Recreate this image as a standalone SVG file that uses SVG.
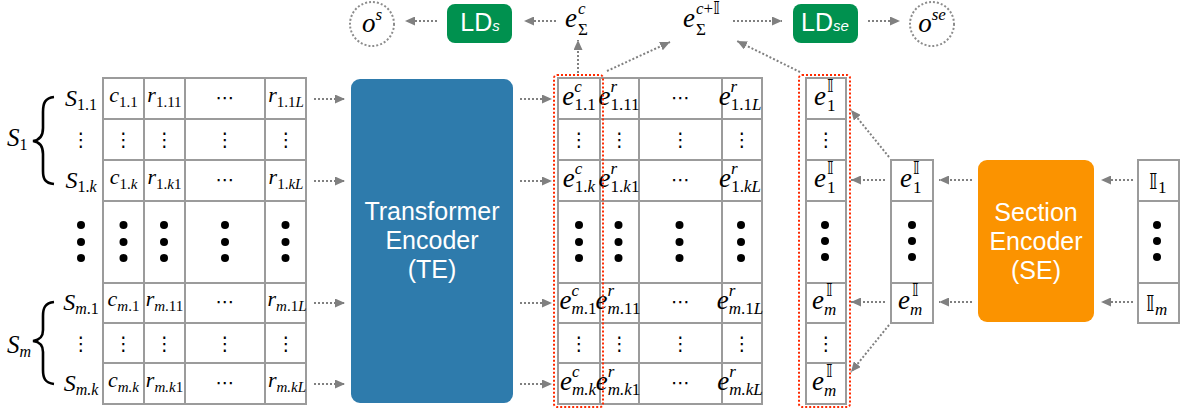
<svg xmlns="http://www.w3.org/2000/svg" width="1181" height="411" viewBox="0 0 1181 411">
<defs>
<marker id="ah" markerUnits="userSpaceOnUse" markerWidth="10" markerHeight="9" refX="10" refY="4.5" orient="auto"><path d="M0,0 L10,4.5 L0,9 z" fill="#808080"/></marker>
<style>
.tb{fill:#fff;stroke:#9b9b9b;stroke-width:2}
.ln{stroke:#9b9b9b;stroke-width:2;fill:none}
.ar{fill:none;stroke:#808080;stroke-width:2;stroke-dasharray:2 2;marker-end:url(#ah)}
.rd{fill:none;stroke:#ff2a00;stroke-width:2;stroke-dasharray:2 2}
.oc{fill:#fff;stroke:#8c8c8c;stroke-width:2;stroke-dasharray:2 2}
.m{font-family:"Liberation Serif","Times New Roman",serif;font-size:22px;fill:#000}
.e{font-size:27px}
.sb{font-size:15px}
.sb2{font-size:17px}
.i{font-style:italic}
.I{font-family:"DejaVu Sans","DejaVu Serif",sans-serif;font-style:normal}
.el{font-family:"DejaVu Serif","DejaVu Sans",serif;font-size:19px;fill:#000}
.sf{font-family:"Liberation Sans",Arial,sans-serif;fill:#fff;font-size:25px}
.bd{fill:#000}
.br{fill:none;stroke:#000;stroke-width:2.6}
</style>
</defs>

<g id="connectors">
<path class="ar" d="M556,21 L524,21"/>
<path class="ar" d="M437,21 L405,21"/>
<path class="ar" d="M733,21 L782,21"/>
<path class="ar" d="M868,21 L900,21"/>
<path class="ar" d="M578,73 L578,40"/>
<path class="ar" d="M607,71 L670,42"/>
<path class="ar" d="M800,72 L737,41"/>
<path class="ar" d="M314,99 L345,99"/>
<path class="ar" d="M314,181 L345,181"/>
<path class="ar" d="M314,303 L345,303"/>
<path class="ar" d="M314,384 L345,384"/>
<path class="ar" d="M520,99 L552,99"/>
<path class="ar" d="M520,181 L552,181"/>
<path class="ar" d="M520,303 L552,303"/>
<path class="ar" d="M520,384 L552,384"/>
<path class="ar" d="M1133,180 L1101,180"/>
<path class="ar" d="M1133,302 L1101,302"/>
<path class="ar" d="M972,180 L939,180"/>
<path class="ar" d="M972,302 L939,302"/>
<path class="ar" d="M885,180 L851,180"/>
<path class="ar" d="M885,302 L851,302"/>
<path class="ar" d="M889,157 L851,110"/>
<path class="ar" d="M889,325 L851,372"/>
</g>

<g id="o-s">
<circle class="oc" cx="372" cy="24" r="22"/>
<text class="m" x="372" y="32" text-anchor="middle"><tspan class="i" font-size="27">o</tspan><tspan class="i" font-size="17" dy="-12">s</tspan></text>
</g>
<g id="LD-s">
<rect x="447" y="4" width="65" height="39" rx="8" fill="#00914f"/>
<text class="sf" x="480" y="31" text-anchor="middle" font-size="22">LD<tspan class="i" font-size="15">s</tspan></text>
</g>
<g id="e-sum-c">
<text class="m"><tspan class="i e" x="565" y="27">e</tspan><tspan class="i sb2" x="578" y="14">c</tspan><tspan class="sb2" x="578" y="35">Σ</tspan></text>
</g>
<g id="e-sum-cI">
<text class="m"><tspan class="i e" x="683" y="27">e</tspan><tspan class="sb2" x="696" y="14"><tspan class="i">c</tspan>+<tspan class="I">𝕀</tspan></tspan><tspan class="sb2" x="696" y="35">Σ</tspan></text>
</g>
<g id="LD-se">
<rect x="793" y="4" width="65" height="39" rx="8" fill="#00914f"/>
<text class="sf" x="825" y="31" text-anchor="middle" font-size="22">LD<tspan class="i" font-size="15">se</tspan></text>
</g>
<g id="o-se">
<circle class="oc" cx="932" cy="24" r="22"/>
<text class="m" x="932" y="32" text-anchor="middle"><tspan class="i" font-size="27">o</tspan><tspan class="i" font-size="17" dy="-12">se</tspan></text>
</g>

<g id="input-table">
<rect class="tb" x="103" y="78" width="203" height="326"/>
<path class="ln" d="M103,119H306M103,160H306M103,201H306M103,283H306M103,323H306M103,363H306M144,78V404M185,78V404M265,78V404"/>
<text class="m" x="81" y="106" text-anchor="middle"><tspan class="i" font-size="24">S</tspan><tspan font-size="16" dy="4">1.1</tspan></text>
<text class="el" x="81" y="146" text-anchor="middle">⋮</text>
<text class="m" x="81" y="188" text-anchor="middle"><tspan class="i" font-size="24">S</tspan><tspan font-size="16" dy="4">1.<tspan class="i">k</tspan></tspan></text>
<text class="m" x="81" y="310" text-anchor="middle"><tspan class="i" font-size="24">S</tspan><tspan font-size="16" dy="4"><tspan class="i">m</tspan>.1</tspan></text>
<text class="el" x="81" y="350" text-anchor="middle">⋮</text>
<text class="m" x="81" y="391" text-anchor="middle"><tspan class="i" font-size="24">S</tspan><tspan font-size="16" dy="4"><tspan class="i">m.k</tspan></tspan></text>
<circle class="bd" cx="81" cy="225" r="4"/><circle class="bd" cx="81" cy="242" r="4"/><circle class="bd" cx="81" cy="258" r="4"/>
<text class="m" x="123.5" y="102" text-anchor="middle"><tspan class="i">c</tspan><tspan class="sb" dy="5">1.1</tspan></text>
<text class="m" x="164.5" y="102" text-anchor="middle"><tspan class="i">r</tspan><tspan class="sb" dy="5">1.11</tspan></text>
<text class="el" x="225" y="104" text-anchor="middle">⋯</text>
<text class="m" x="286" y="102" text-anchor="middle"><tspan class="i">r</tspan><tspan class="sb" dy="5">1.1<tspan class="i">L</tspan></tspan></text>
<text class="el" x="123.5" y="146" text-anchor="middle">⋮</text>
<text class="el" x="164.5" y="146" text-anchor="middle">⋮</text>
<text class="el" x="225" y="146" text-anchor="middle">⋮</text>
<text class="el" x="286" y="146" text-anchor="middle">⋮</text>
<text class="m" x="123.5" y="184" text-anchor="middle"><tspan class="i">c</tspan><tspan class="sb" dy="5">1.<tspan class="i">k</tspan></tspan></text>
<text class="m" x="164.5" y="184" text-anchor="middle"><tspan class="i">r</tspan><tspan class="sb" dy="5">1.<tspan class="i">k</tspan>1</tspan></text>
<text class="el" x="225" y="186" text-anchor="middle">⋯</text>
<text class="m" x="286" y="184" text-anchor="middle"><tspan class="i">r</tspan><tspan class="sb" dy="5">1.<tspan class="i">kL</tspan></tspan></text>
<circle class="bd" cx="123.5" cy="225" r="4"/><circle class="bd" cx="123.5" cy="242" r="4"/><circle class="bd" cx="123.5" cy="258" r="4"/>
<circle class="bd" cx="164" cy="225" r="4"/><circle class="bd" cx="164" cy="242" r="4"/><circle class="bd" cx="164" cy="258" r="4"/>
<circle class="bd" cx="225" cy="225" r="4"/><circle class="bd" cx="225" cy="242" r="4"/><circle class="bd" cx="225" cy="258" r="4"/>
<circle class="bd" cx="285.5" cy="225" r="4"/><circle class="bd" cx="285.5" cy="242" r="4"/><circle class="bd" cx="285.5" cy="258" r="4"/>
<text class="m" x="123.5" y="306" text-anchor="middle"><tspan class="i">c</tspan><tspan class="sb" dy="5"><tspan class="i">m</tspan>.1</tspan></text>
<text class="m" x="164.5" y="306" text-anchor="middle"><tspan class="i">r</tspan><tspan class="sb" dy="5"><tspan class="i">m</tspan>.11</tspan></text>
<text class="el" x="225" y="308" text-anchor="middle">⋯</text>
<text class="m" x="287" y="306" text-anchor="middle"><tspan class="i">r</tspan><tspan class="sb" dy="5"><tspan class="i">m</tspan>.1<tspan class="i">L</tspan></tspan></text>
<text class="el" x="123.5" y="350" text-anchor="middle">⋮</text>
<text class="el" x="164.5" y="350" text-anchor="middle">⋮</text>
<text class="el" x="225" y="350" text-anchor="middle">⋮</text>
<text class="el" x="286" y="350" text-anchor="middle">⋮</text>
<text class="m" x="123.5" y="387" text-anchor="middle"><tspan class="i">c</tspan><tspan class="sb i" dy="5">m.k</tspan></text>
<text class="m" x="164.5" y="387" text-anchor="middle"><tspan class="i">r</tspan><tspan class="sb" dy="5"><tspan class="i">m.k</tspan>1</tspan></text>
<text class="el" x="225" y="389" text-anchor="middle">⋯</text>
<text class="m" x="287" y="387" text-anchor="middle"><tspan class="i">r</tspan><tspan class="sb i" dy="5">m.kL</tspan></text>
</g>

<g id="brace-S1">
<path class="br" d="M54,97 C45,98 43,103 43,112 L43,128 C43,136 40,140 33,141 C40,142 43,146 43,154 L43,171 C43,179 45,183 54,184"/>
<text class="m" x="7" y="146"><tspan class="i" font-size="25">S</tspan><tspan font-size="16" dy="4">1</tspan></text>
</g>
<g id="brace-Sm">
<path class="br" d="M54,302 C45,303 43,308 43,316 L43,330 C43,337 40,340 33,341 C40,342 43,345 43,352 L43,370 C43,378 45,383 54,384"/>
<text class="m" x="7" y="353"><tspan class="i" font-size="25">S</tspan><tspan class="i" font-size="16" dy="4">m</tspan></text>
</g>

<g id="TE">
<rect x="351" y="79" width="162" height="324" rx="9" fill="#2e7bac"/>
<text class="sf" x="432" y="220" text-anchor="middle">Transformer</text>
<text class="sf" x="432" y="249" text-anchor="middle">Encoder</text>
<text class="sf" x="432" y="278" text-anchor="middle">(TE)</text>
</g>

<g id="embed-table">
<rect class="tb" x="558" y="78" width="204" height="326"/>
<path class="ln" d="M558,119H762M558,160H762M558,201H762M558,283H762M558,323H762M558,363H762M600,78V404M639,78V404M722,78V404"/>
<text class="m" x="579" y="105" text-anchor="middle"><tspan class="i e">e</tspan><tspan class="i sb2" dy="-13">c</tspan><tspan class="sb2" dx="-7.5" dy="18">1.1</tspan></text>
<text class="m" x="619" y="105" text-anchor="middle"><tspan class="i e">e</tspan><tspan class="i sb2" dy="-13">r</tspan><tspan class="sb2" dx="-6.6" dy="18">1.11</tspan></text>
<text class="el" x="680.5" y="104" text-anchor="middle">⋯</text>
<text class="m" x="740" y="105" text-anchor="middle"><tspan class="i e">e</tspan><tspan class="i sb2" dy="-13">r</tspan><tspan class="sb2" dx="-6.6" dy="18">1.1<tspan class="i">L</tspan></tspan></text>
<text class="el" x="579" y="146" text-anchor="middle">⋮</text>
<text class="el" x="619.5" y="146" text-anchor="middle">⋮</text>
<text class="el" x="680.5" y="146" text-anchor="middle">⋮</text>
<text class="el" x="742" y="146" text-anchor="middle">⋮</text>
<text class="m" x="579" y="187" text-anchor="middle"><tspan class="i e">e</tspan><tspan class="i sb2" dy="-13">c</tspan><tspan class="sb2" dx="-7.5" dy="18">1.<tspan class="i">k</tspan></tspan></text>
<text class="m" x="619" y="187" text-anchor="middle"><tspan class="i e">e</tspan><tspan class="i sb2" dy="-13">r</tspan><tspan class="sb2" dx="-6.6" dy="18">1.<tspan class="i">k</tspan>1</tspan></text>
<text class="el" x="680.5" y="186" text-anchor="middle">⋯</text>
<text class="m" x="740" y="187" text-anchor="middle"><tspan class="i e">e</tspan><tspan class="i sb2" dy="-13">r</tspan><tspan class="sb2" dx="-6.6" dy="18">1.<tspan class="i">kL</tspan></tspan></text>
<circle class="bd" cx="579" cy="225" r="4"/><circle class="bd" cx="579" cy="242" r="4"/><circle class="bd" cx="579" cy="258" r="4"/>
<circle class="bd" cx="618.5" cy="225" r="4"/><circle class="bd" cx="618.5" cy="242" r="4"/><circle class="bd" cx="618.5" cy="258" r="4"/>
<circle class="bd" cx="679.5" cy="225" r="4"/><circle class="bd" cx="679.5" cy="242" r="4"/><circle class="bd" cx="679.5" cy="258" r="4"/>
<circle class="bd" cx="741" cy="225" r="4"/><circle class="bd" cx="741" cy="242" r="4"/><circle class="bd" cx="741" cy="258" r="4"/>
<text class="m" x="578" y="309" text-anchor="middle"><tspan class="i e">e</tspan><tspan class="i sb2" dy="-13">c</tspan><tspan class="sb2" dx="-7.5" dy="18"><tspan class="i">m</tspan>.1</tspan></text>
<text class="m" x="618" y="309" text-anchor="middle"><tspan class="i e">e</tspan><tspan class="i sb2" dy="-13">r</tspan><tspan class="sb2" dx="-6.6" dy="18"><tspan class="i">m</tspan>.11</tspan></text>
<text class="el" x="680.5" y="308" text-anchor="middle">⋯</text>
<text class="m" x="740" y="309" text-anchor="middle"><tspan class="i e">e</tspan><tspan class="i sb2" dy="-13">r</tspan><tspan class="sb2" dx="-6.6" dy="18"><tspan class="i">m</tspan>.1<tspan class="i">L</tspan></tspan></text>
<text class="el" x="579" y="350" text-anchor="middle">⋮</text>
<text class="el" x="619.5" y="350" text-anchor="middle">⋮</text>
<text class="el" x="680.5" y="350" text-anchor="middle">⋮</text>
<text class="el" x="742" y="350" text-anchor="middle">⋮</text>
<text class="m" x="578" y="390" text-anchor="middle"><tspan class="i e">e</tspan><tspan class="i sb2" dy="-13">c</tspan><tspan class="sb2 i" dx="-7.5" dy="18">m.k</tspan></text>
<text class="m" x="618" y="390" text-anchor="middle"><tspan class="i e">e</tspan><tspan class="i sb2" dy="-13">r</tspan><tspan class="sb2" dx="-6.6" dy="18"><tspan class="i">m.k</tspan>1</tspan></text>
<text class="el" x="680.5" y="389" text-anchor="middle">⋯</text>
<text class="m" x="740" y="390" text-anchor="middle"><tspan class="i e">e</tspan><tspan class="i sb2" dy="-13">r</tspan><tspan class="sb2 i" dx="-6.6" dy="18">m.kL</tspan></text>
</g>
<rect id="red-c" class="rd" x="554" y="75" width="49" height="332" rx="3"/>

<g id="section-emb-expanded">
<rect class="tb" x="806" y="78" width="40" height="326"/>
<path class="ln" d="M806,119H846M806,160H846M806,201H846M806,283H846M806,323H846M806,363H846"/>
<text class="m"><tspan class="i e" x="814" y="105">e</tspan><tspan class="sb2 I" x="827" y="92">𝕀</tspan><tspan class="sb2" x="827" y="111">1</tspan></text>
<text class="el" x="826" y="146" text-anchor="middle">⋮</text>
<text class="m"><tspan class="i e" x="814" y="187">e</tspan><tspan class="sb2 I" x="827" y="174">𝕀</tspan><tspan class="sb2" x="827" y="193">1</tspan></text>
<circle class="bd" cx="825" cy="225" r="4"/><circle class="bd" cx="825" cy="241" r="4"/><circle class="bd" cx="825" cy="257" r="4"/>
<text class="m"><tspan class="i e" x="812" y="309">e</tspan><tspan class="sb2 I" x="826" y="296">𝕀</tspan><tspan class="sb2 i" x="824" y="315">m</tspan></text>
<text class="el" x="826" y="350" text-anchor="middle">⋮</text>
<text class="m"><tspan class="i e" x="812" y="390">e</tspan><tspan class="sb2 I" x="826" y="377">𝕀</tspan><tspan class="sb2 i" x="824" y="396">m</tspan></text>
</g>
<rect id="red-I" class="rd" x="799" y="75" width="51" height="332" rx="3"/>

<g id="section-emb">
<rect class="tb" x="891" y="160" width="42" height="163"/>
<path class="ln" d="M891,201H933M891,283H933"/>
<text class="m"><tspan class="i e" x="900" y="187">e</tspan><tspan class="sb2 I" x="913" y="174">𝕀</tspan><tspan class="sb2" x="913" y="193">1</tspan></text>
<circle class="bd" cx="912" cy="225" r="4"/><circle class="bd" cx="912" cy="241" r="4"/><circle class="bd" cx="912" cy="257" r="4"/>
<text class="m"><tspan class="i e" x="898" y="309">e</tspan><tspan class="sb2 I" x="912" y="296">𝕀</tspan><tspan class="sb2 i" x="910" y="315">m</tspan></text>
</g>

<g id="SE">
<rect x="978" y="160" width="116" height="162" rx="9" fill="#fb9300"/>
<text class="sf" x="1036" y="221" text-anchor="middle">Section</text>
<text class="sf" x="1036" y="250" text-anchor="middle">Encoder</text>
<text class="sf" x="1036" y="279" text-anchor="middle">(SE)</text>
</g>

<g id="section-input">
<rect class="tb" x="1138" y="160" width="41" height="163"/>
<path class="ln" d="M1138,201H1179M1138,283H1179"/>
<text class="m"><tspan class="I" font-size="22" x="1149" y="189">𝕀</tspan><tspan class="sb2" x="1158" y="193">1</tspan></text>
<circle class="bd" cx="1157" cy="225" r="4"/><circle class="bd" cx="1157" cy="241" r="4"/><circle class="bd" cx="1157" cy="257" r="4"/>
<text class="m"><tspan class="I" font-size="22" x="1146" y="311">𝕀</tspan><tspan class="sb2 i" x="1155" y="315">m</tspan></text>
</g>
</svg>
